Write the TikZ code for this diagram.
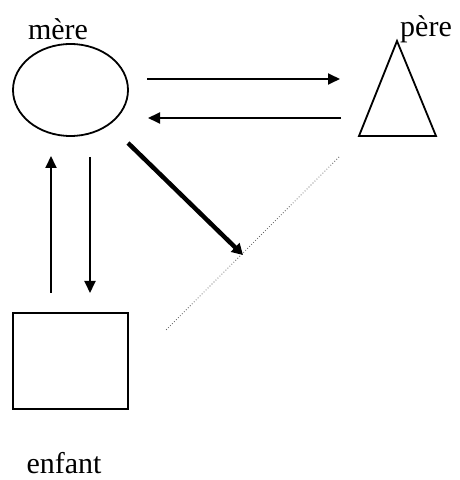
\documentclass[tikz,border=0pt]{standalone}
\usepackage{fontspec}
\setmainfont{Liberation Serif}
\usetikzlibrary{shapes.geometric,arrows.meta}
\begin{document}
\begin{tikzpicture}[x=1pt,y=1pt,
  lbl/.style={inner sep=0pt,font=\fontsize{30}{36}\selectfont},
  thin arrow/.style={line width=1.8pt,-{Triangle[length=12pt,width=11pt]}},
  thick arrow/.style={line width=4.5pt,-{Triangle[length=11pt,width=12pt]}},
  shapeline/.style={line width=1.8pt}]
\useasboundingbox (0,0) rectangle (459,480);
% mother
\node[draw,shapeline,ellipse,minimum width=115pt,minimum height=92pt,inner sep=0pt] (mere) at (70.5,390) {};
\node[lbl] (lmere) at (58,451) {mère};
% father
\coordinate (pa) at (397,439);
\coordinate (pl) at (359,344);
\coordinate (pr) at (436,344);
\draw[shapeline,line join=miter] (pa) -- (pl) -- (pr) -- cycle;
\node[lbl] (lpere) at (426,451) {père};
% child
\node[draw,shapeline,minimum width=115pt,minimum height=96pt,inner sep=0pt] (enfant) at (70.5,119) {};
\node[lbl] (lenfant) at (64,17) {enfant};
% horizontal arrows
\coordinate (h1s) at (147,401);
\coordinate (h1e) at (340,401);
\coordinate (h2s) at (341,362);
\coordinate (h2e) at (148,362);
\draw[thin arrow] (h1s) -- (h1e);
\draw[thin arrow] (h2s) -- (h2e);
% vertical arrows
\coordinate (v1s) at (51,187);
\coordinate (v1e) at (51,324);
\coordinate (v2s) at (90,323);
\coordinate (v2e) at (90,187);
\draw[thin arrow] (v1s) -- (v1e);
\draw[thin arrow] (v2s) -- (v2e);
% dotted line
\coordinate (d1) at (339,323);
\coordinate (d2) at (166,150);
\draw[black!60,line width=0.8pt,dotted] (d1) -- (d2);
% thick arrow
\coordinate (t1) at (128,337);
\coordinate (t2) at (243,225);
\draw[thick arrow] (t1) -- (t2);
\end{tikzpicture}
\end{document}
